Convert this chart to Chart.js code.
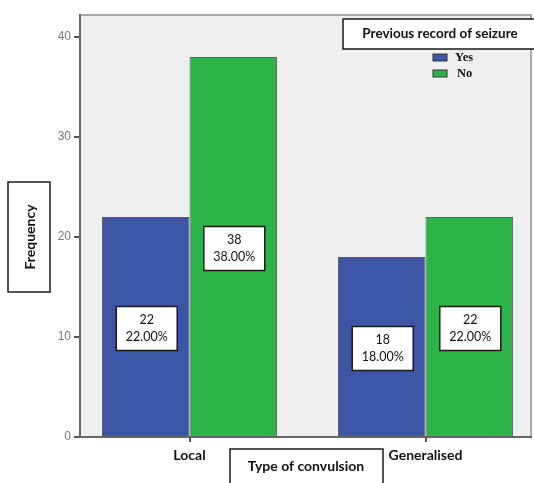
<!DOCTYPE html>
<html>
<head>
<meta charset="utf-8">
<script src="https://cdn.jsdelivr.net/npm/chart.js@4.4.1/dist/chart.umd.min.js"></script>
<style>
  html, body { margin: 0; padding: 0; background: #ffffff; }
  #wrap { width: 534px; height: 483px; position: relative; }
</style>
</head>
<body>
<div id="wrap"><canvas id="chart" width="534" height="483"></canvas></div>
<script>
// Type of convulsion by previous record of seizure (counts)
const categories = ['Local', 'Generalised'];
const seriesNames = ['Yes', 'No'];
const yesCounts = [22, 18];
const noCounts = [38, 22];
const yTicks = [0, 10, 20, 30, 40];

const seriesColors = ['#3c55a6', '#2cb449'];
const total = [...yesCounts, ...noCounts].reduce((a, b) => a + b, 0);

const toPoints = arr => arr.map((v, i) => ({ x: i, y: v }));

// Gray plot area with a light frame on top and right
const plotFrame = {
  id: 'plotFrame',
  beforeDraw(chart) {
    const { ctx, chartArea: a } = chart;
    ctx.save();
    ctx.fillStyle = '#efeff0';
    ctx.fillRect(a.left, a.top, a.right - a.left, a.bottom - a.top);
    ctx.strokeStyle = '#a8a8a8';
    ctx.lineWidth = 2;
    ctx.beginPath();
    ctx.moveTo(a.left, a.top);
    ctx.lineTo(a.right, a.top);
    ctx.lineTo(a.right, a.bottom);
    ctx.stroke();
    ctx.restore();
  }
};

function boxedText(ctx, cx, cy, w, h, lines, font, lineH) {
  ctx.fillStyle = '#ffffff';
  ctx.fillRect(cx - w / 2, cy - h / 2, w, h);
  ctx.strokeStyle = '#1a1a1a';
  ctx.lineWidth = 1.5;
  ctx.strokeRect(cx - w / 2, cy - h / 2, w, h);
  ctx.fillStyle = '#111111';
  ctx.font = font;
  ctx.textAlign = 'center';
  ctx.textBaseline = 'middle';
  const start = cy - (lines.length - 1) * lineH / 2;
  lines.forEach((t, k) => ctx.fillText(t, cx, start + k * lineH));
}

// Count / percentage boxes centred in each bar
const valueBoxes = {
  id: 'valueBoxes',
  afterDatasetsDraw(chart) {
    const { ctx } = chart;
    const yScale = chart.scales.y;
    ctx.save();
    chart.data.datasets.forEach((ds, di) => {
      const meta = chart.getDatasetMeta(di);
      meta.data.forEach((bar, i) => {
        const v = ds.data[i].y;
        const pct = (v / total * 100).toFixed(2) + '%';
        const cy = yScale.getPixelForValue(v / 2) + 1.5;
        boxedText(ctx, bar.x + 1, cy, 61, 44, [String(v), pct], '12.5px Lato', 17);
      });
    });
    ctx.restore();
  }
};

// Axis titles, legend title and legend entries
const annotations = {
  id: 'annotations',
  afterDraw(chart) {
    const { ctx } = chart;
    ctx.save();
    // y-axis title box
    ctx.fillStyle = '#ffffff';
    ctx.fillRect(8, 182, 42, 110);
    ctx.strokeStyle = '#1a1a1a';
    ctx.lineWidth = 1.5;
    ctx.strokeRect(8, 182, 42, 110);
    ctx.save();
    ctx.translate(30, 237);
    ctx.rotate(-Math.PI / 2);
    ctx.fillStyle = '#111111';
    ctx.font = 'bold 14px Lato';
    ctx.textAlign = 'center';
    ctx.textBaseline = 'middle';
    ctx.fillText('Frequency', 0, 0);
    ctx.restore();

    // x-axis title box
    boxedText(ctx, 306.5, 470, 153, 42, [], 'bold 14px Lato', 0);
    ctx.fillStyle = '#111111';
    ctx.font = 'bold 14px Lato';
    ctx.textAlign = 'center';
    ctx.textBaseline = 'middle';
    ctx.fillText('Type of convulsion', 306, 466);

    // legend title box
    boxedText(ctx, 440, 34, 194, 30, ['Previous record of seizure'], 'bold 13.5px Lato', 0);

    // legend entries
    chart.data.datasets.forEach((ds, di) => {
      const y = 57.5 + di * 16;
      ctx.fillStyle = ds.backgroundColor;
      ctx.fillRect(433, y - 3.5, 14, 7);
      ctx.strokeStyle = '#333333';
      ctx.lineWidth = 1;
      ctx.strokeRect(433, y - 3.5, 14, 7);
      ctx.fillStyle = '#111111';
      ctx.font = 'bold 12.5px "Liberation Serif"';
      ctx.textAlign = 'left';
      ctx.textBaseline = 'middle';
      ctx.fillText(ds.label, di === 0 ? 455 : 457, y);
    });
    ctx.restore();
  }
};

new Chart(document.getElementById('chart'), {
  type: 'bar',
  data: {
    datasets: [
      { label: seriesNames[0], data: toPoints(yesCounts), backgroundColor: seriesColors[0],
        borderColor: 'rgba(40,40,60,0.75)', borderWidth: 1 },
      { label: seriesNames[1], data: toPoints(noCounts), backgroundColor: seriesColors[1],
        borderColor: 'rgba(40,60,40,0.75)', borderWidth: 1 }
    ]
  },
  options: {
    responsive: false,
    animation: false,
    devicePixelRatio: 1,
    layout: { padding: { left: 0, top: 15, right: 3, bottom: 0 } },
    categoryPercentage: 0.742,
    barPercentage: 1,
    plugins: {
      legend: { display: false },
      tooltip: { enabled: false }
    },
    scales: {
      x: {
        type: 'linear',
        offset: false,
        min: -0.464,
        max: 1.447,
        afterFit: s => { s.height = 46; },
        afterBuildTicks: s => { s.ticks = categories.map((c, i) => ({ value: i })); },
        grid: { offset: false, drawOnChartArea: false, drawTicks: true, tickLength: 5, color: '#555555', lineWidth: 2 },
        border: { display: true, color: '#666666', width: 2 },
        ticks: {
          padding: 5,
          autoSkip: false,
          color: '#111111',
          font: { family: 'Lato', size: 14, weight: 'bold' },
          callback: v => categories[v] ?? ''
        }
      },
      y: {
        min: 0,
        max: 42.2,
        afterFit: s => { s.width = 80; },
        afterBuildTicks: s => { s.ticks = yTicks.map(v => ({ value: v })); },
        grid: { drawOnChartArea: false, drawTicks: true, tickLength: 6, color: '#555555', lineWidth: 2 },
        border: { display: true, color: '#666666', width: 2 },
        ticks: {
          padding: 3,
          color: '#777777',
          font: { family: 'Liberation Sans', size: 12 }
        }
      }
    }
  },
  plugins: [plotFrame, valueBoxes, annotations]
});
</script>
</body>
</html>
